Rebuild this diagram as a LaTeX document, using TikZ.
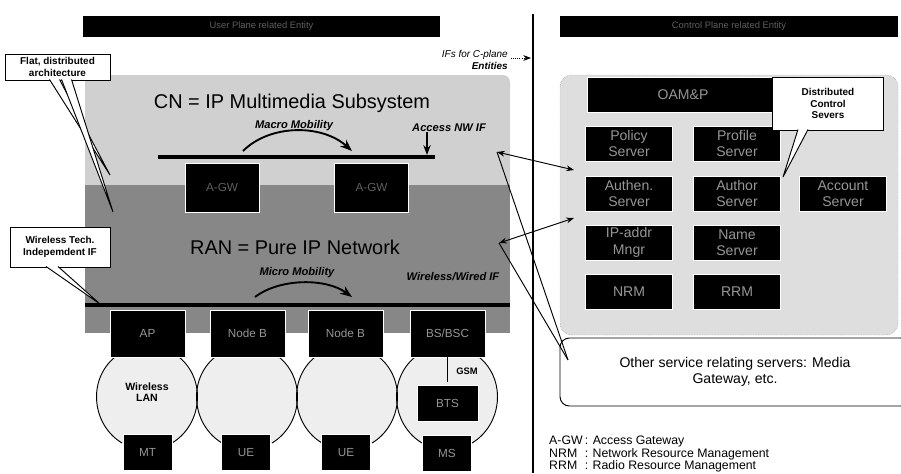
\documentclass[tikz,border=0pt]{standalone}
\usepackage{fontspec}
\setmainfont{Liberation Sans}
\usepackage{tikz}
\usetikzlibrary{arrows.meta, calc, positioning}
\definecolor{boxtext}{RGB}{150,150,150}
\definecolor{dimtext}{RGB}{95,95,95}
\definecolor{cnfill}{RGB}{208,208,208}
\definecolor{ranfill}{RGB}{135,135,135}
\definecolor{cpfill}{RGB}{222,222,222}
\definecolor{cellfill}{RGB}{238,238,238}
\tikzset{
  hdr/.style={rectangle, fill=black, text=dimtext, minimum height=0.63cm,
    inner sep=0pt, font=\fontsize{8}{8}\selectfont},
  blk/.style={rectangle, draw=white, fill=black, text=boxtext, align=center,
    inner sep=0pt, line width=0.8pt, font=\fontsize{10}{10}\selectfont},
  gwbox/.style={blk, text=dimtext, minimum width=2.22cm, minimum height=1.47cm},
  bsbox/.style={blk, minimum width=2.25cm, minimum height=1.41cm},
  tbox/.style={blk, minimum width=1.47cm, minimum height=1.08cm},
  srvbox/.style={blk, minimum width=2.61cm, minimum height=1.05cm,
    font=\fontsize{12}{14}\selectfont},
  callout/.style={rectangle, draw=black, fill=white, align=center, inner sep=0pt,
    line width=0.8pt, font=\fontsize{8.5}{9.8}\selectfont\bfseries},
  title/.style={font=\fontsize{17}{17}\selectfont, inner sep=0pt},
  mob/.style={font=\fontsize{9.5}{9.5}\selectfont\bfseries\itshape, inner sep=0pt},
  ifline/.style={line width=3pt},
  mobarrow/.style={-Stealth, line width=1.6pt},
  dblarrow/.style={Stealth-Stealth, line width=0.8pt},
  tail/.style={fill=white, draw=black, line width=0.8pt}
}
\begin{document}
\begin{tikzpicture}[x=0.03cm, y=-0.03cm]
  \useasboundingbox (0,0) rectangle (901,473);

  % Plane headers and divider
  \node[hdr, minimum width=10.71cm] (uphdr) at (261.5,26.5) {User Plane related Entity};
  \node[hdr, minimum width=10.14cm] (cphdr) at (729,26.5) {Control Plane related Entity};
  \draw[line width=2pt] (533,14) -- (533,473);

  % User plane layers
  \fill[cnfill, rounded corners=6pt] (85,75) rectangle (510,192);
  \fill[ranfill] (85,185) rectangle (510,333);
  \node[title] (cn) at (292,103) {CN = IP Multimedia Subsystem};
  \node[title] (ran) at (295,247) {RAN = Pure IP Network};

  % IFs for C-plane
  \node[font=\fontsize{8.5}{10}\selectfont\itshape, align=right, anchor=east, inner sep=0pt]
    (cpif) at (508,60) {IFs for C-plane\\\textbf{Entities}};
  \coordinate (cpend) at (531,58);
  \draw[densely dotted, -Stealth, line width=0.8pt] (cpif.north east |- cpend) ++(3,0) -- (cpend);

  % Macro mobility and access NW IF
  \node[mob] (macro) at (294,126) {Macro Mobility};
  \coordinate (macroL) at (243,151);
  \coordinate (macroR) at (352,151);
  \draw[mobarrow] (macroL) .. controls (270,124) and (322,124) .. (macroR);
  \coordinate (cnL) at (158,157);
  \coordinate (cnR) at (435,157);
  \draw[ifline] (cnL) -- (cnR);
  \node[mob, anchor=west] (accnw) at (412,128) {Access NW IF};
  \coordinate (accpt) at (427,155);
  \draw[-Stealth, line width=1.2pt] (accnw.south -| accpt) -- (accpt);

  % Access gateways
  \node[gwbox] (gw1) at (222,187.5) {A-GW};
  \node[gwbox] (gw2) at (371.5,187.5) {A-GW};

  % Micro mobility and RAN IF
  \node[mob] (micro) at (297,273) {Micro Mobility};
  \node[mob] (wwif) at (453,277) {Wireless/Wired IF};
  \coordinate (microL) at (255,297);
  \coordinate (microR) at (352,297);
  \draw[mobarrow] (microL) .. controls (280,278) and (326,278) .. (microR);
  \coordinate (ranL) at (85,305);
  \coordinate (ranR) at (510,305);
  \draw[ifline] (ranL) -- (ranR);

  % Radio cells
  \foreach \cx in {147,247,347,447}
    \fill[cellfill] (\cx-32,357) .. controls (\cx-60,380) and (\cx-55,425) .. (\cx-25,443)
      -- (\cx+25,443) .. controls (\cx+55,425) and (\cx+60,380) .. (\cx+32,357) -- cycle;
  \foreach \cx in {147,247,347,447} {
    \draw[line width=0.8pt] (\cx-32,357) .. controls (\cx-60,380) and (\cx-55,425) .. (\cx-25,443);
    \draw[line width=0.8pt] (\cx+32,357) .. controls (\cx+60,380) and (\cx+55,425) .. (\cx+25,443);
  }
  \node[font=\fontsize{9}{9.5}\selectfont\bfseries, align=center] (wlan) at (147,392) {Wireless\\LAN};

  % Base stations
  \node[bsbox] (ap) at (147.5,333.5) {AP};
  \node[bsbox] (nb1) at (247.5,333.5) {Node B};
  \node[bsbox] (nb2) at (345.5,333.5) {Node B};
  \node[bsbox] (bsc) at (447.5,333.5) {BS/BSC};
  \node[tbox, minimum width=1.83cm] (bts) at (447.5,403.5) {BTS};
  \coordinate (gsmend) at (448,382);
  \draw[line width=1.5pt] (bsc.south) -- (bsc.south |- gsmend);
  \node[font=\fontsize{8}{8}\selectfont\bfseries, inner sep=0pt] (gsm) at (467,371) {GSM};

  % Terminals
  \node[tbox] (mt) at (147.5,452.5) {MT};
  \node[tbox] (ue1) at (246,452.5) {UE};
  \node[tbox] (ue2) at (346,452.5) {UE};
  \node[tbox] (ms) at (447,453.5) {MS};

  % Left callouts
  \node[callout, minimum width=3.15cm, minimum height=0.78cm] (flat) at (57.5,67) {Flat, distributed\\architecture};
  \coordinate (flatA) at (110,175);
  \coordinate (flatB) at (113,212);
  \filldraw[tail] ($(flat.south)+(-8,-1)$) -- (flatA) -- ($(flat.south)+(2,-1)$);
  \filldraw[tail] ($(flat.south)+(4,-1)$) -- (flatB) -- ($(flat.south)+(14,-1)$);
  \node[callout, minimum width=3cm, minimum height=1.2cm] (wtif) at (60,247) {Wireless Tech.\\Indepemdent IF};
  \coordinate (wtA) at (100,304);
  \filldraw[tail] ($(wtif.south)+(-14,-1)$) -- (wtA) -- ($(wtif.south)+(-2,-1)$);

  % Control plane entities
  \draw[densely dotted, draw=gray, fill=cpfill, rounded corners=10pt] (560,75) rectangle (898,335);
  \node[srvbox, minimum width=5.76cm] (oamp) at (683,95) {OAM\&P};
  \node[srvbox] (policy) at (629,143.5) {Policy\\Server};
  \node[srvbox] (profile) at (737,143.5) {Profile\\Server};
  \node[srvbox] (authen) at (629,193.5) {Authen.\\Server};
  \node[srvbox] (author) at (737,193.5) {Author\\Server};
  \node[srvbox] (account) at (843,193.5) {Account\\Server};
  \node[srvbox] (ipaddr) at (629,242.5) {IP-addr\\Mngr};
  \node[srvbox] (name) at (737,242.5) {Name\\Server};
  \node[srvbox] (nrm) at (629,292) {NRM};
  \node[srvbox] (rrm) at (737,292) {RRM};

  % Distributed control servers callout
  \node[callout, minimum width=3.33cm, minimum height=1.59cm] (dist) at (828,103.5) {Distributed\\Control\\Severs};
  \coordinate (distA) at (783,177);
  \filldraw[tail] ($(dist.south)+(-30,-1)$) -- (distA) -- ($(dist.south)+(-20,-1)$);

  % Other service servers
  \node[draw=black, fill=white, rounded corners=8pt, line width=0.8pt, minimum width=10.5cm,
    minimum height=2.04cm, align=center, inner sep=0pt, font=\fontsize{12}{13.5}\selectfont]
    (other) at (735,372) {Other service relating servers: Media\\Gateway, etc.};

  % IFs between the planes
  \coordinate (ifA) at (497,152);
  \coordinate (ifB) at (499,243);
  \coordinate (srvA) at (574,170);
  \coordinate (srvB) at (574,218);
  \coordinate (otail) at (568,360);
  \draw[dblarrow] (ifA) -- (srvA);
  \draw[dblarrow] (ifB) -- (srvB);
  \draw[line width=0.8pt] (ifA) -- (otail);
  \draw[line width=0.8pt] (ifB) -- (otail);

  % Legend
  \node[anchor=north west, inner sep=0pt, font=\fontsize{10.5}{9.8}\selectfont] (legend) at (549,436)
    {\begin{tabular}{@{}l@{\,}l@{}}
      A-GW & : Access Gateway\\
      NRM & : Network Resource Management\\
      RRM & : Radio Resource Management
    \end{tabular}};
\end{tikzpicture}
\end{document}
